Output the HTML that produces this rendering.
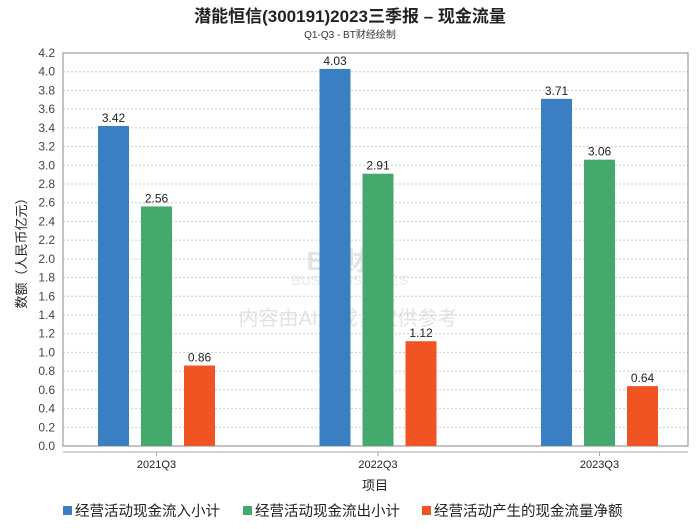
<!DOCTYPE html>
<html><head><meta charset="utf-8"><style>
body{margin:0;background:#fff;}
svg text{font-family:"Liberation Sans","Noto Sans CJK SC",sans-serif;}
</style></head><body>
<svg id="c" width="700" height="524">
<text x="350" y="22" text-anchor="middle" font-size="17" font-weight="bold" fill="#222">潜能恒信(300191)2023三季报 – 现金流量</text>
<text x="350" y="38" text-anchor="middle" font-size="10" fill="#333">Q1-Q3 - BT财经绘制</text>
<text x="350" y="270" text-anchor="middle" font-size="26" fill="#e4e4e4" font-weight="bold">BT财经</text>
<text x="350" y="285" text-anchor="middle" font-size="14" fill="#e8e8e8">BUSINESS TIMES</text>
<text x="348" y="325" text-anchor="middle" font-size="20" fill="#e2e2e2">内容由AI生成，仅供参考</text>
<text transform="translate(26,250) rotate(-90)" text-anchor="middle" font-size="13" fill="#222">数额（人民币亿元）</text>
<text x="375" y="490" text-anchor="middle" font-size="13" fill="#222">项目</text>
<g id="grid"></g><g id="bars"></g><g id="legend"></g>
</svg>
<script>
const categories=["2021Q3","2022Q3","2023Q3"];
const inflow=[3.42,4.03,3.71];
const outflow=[2.56,2.91,3.06];
const net=[0.86,1.12,0.64];
const seriesNames=["经营活动现金流入小计","经营活动现金流出小计","经营活动产生的现金流量净额"];
const yTicks=[0,0.2,0.4,0.6,0.8,1.0,1.2,1.4,1.6,1.8,2.0,2.2,2.4,2.6,2.8,3.0,3.2,3.4,3.6,3.8,4.0,4.2];
const colors=["#3a7fc1","#45a96e","#f05423"];
const NS="http://www.w3.org/2000/svg";
const L=63,R=688,T=53,B=446,yMax=4.2;
const y=v=>B-(v/yMax)*(B-T);
const xc=i=>156.5+i*221.5;
function mk(tag,at,parent,txt){const e=document.createElementNS(NS,tag);for(const k in at)e.setAttribute(k,at[k]);if(txt!==undefined)e.textContent=txt;parent.appendChild(e);return e;}
const grid=document.getElementById('grid');
yTicks.forEach(t=>{
  if(t>0){const g=mk('line',{x1:L,x2:R,y1:y(t),y2:y(t),stroke:'#ccc','stroke-dasharray':'2,2'},grid);
  
  }
  const tl=mk('text',{x:L-8,y:y(t)+4,'text-anchor':'end','font-size':12,fill:'#444'},grid,t.toFixed(1));
  
  
});
const fr=mk('rect',{x:L,y:T,width:R-L,height:B-T,fill:'none',stroke:'#888'},grid);


const xa=mk('line',{x1:L,x2:R,y1:B+6,y2:B+6,stroke:'#aaa'},grid);


const bars=document.getElementById('bars');
const series=[inflow,outflow,net];
categories.forEach((c,i)=>{
  const tk=mk('line',{x1:xc(i),x2:xc(i),y1:B+6,y2:B+10,stroke:'#aaa'},bars);
  
  
  const xl=mk('text',{x:xc(i),y:B+22,'text-anchor':'middle','font-size':11,fill:'#222'},bars,c);
  
  
  series.forEach((s,j)=>{
    const cx=xc(i)+(j-1)*43;
    const r=mk('rect',{x:cx-15.5,y:y(s[i]),width:31,height:B-y(s[i]),fill:colors[j]},bars);
    
    
    const v=mk('text',{x:cx,y:y(s[i])-4,'text-anchor':'middle','font-size':12,fill:'#222'},bars,s[i].toFixed(2));
    
    
  });
});
const lg=document.getElementById('legend');
const lx=[63,243,422];
seriesNames.forEach((n,j)=>{
  const g=mk('g',{},lg);
  
  
  mk('rect',{x:lx[j],y:506,width:9,height:9,fill:colors[j]},g);
  mk('text',{x:lx[j]+12,y:516,'font-size':14.5,fill:'#222'},g,n);
});
</script>
</body></html>
